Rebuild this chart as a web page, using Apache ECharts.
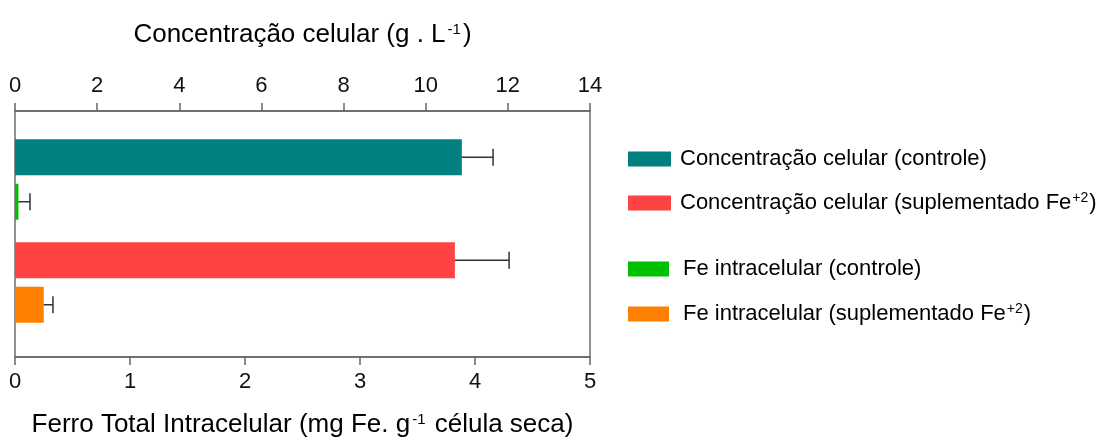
<!DOCTYPE html>
<html>
<head>
<meta charset="utf-8">
<script src="https://cdn.jsdelivr.net/npm/echarts@6/dist/echarts.min.js"></script>
<style>
  html, body { margin: 0; padding: 0; background: #ffffff; }
  #chart { width: 1096px; height: 438px; }
</style>
</head>
<body>
<div id="chart"></div>
<script>
// Treatments (rows) and measured values
const groups = ['controle', 'suplementado Fe+2'];
const seriesNames = [
  'Concentração celular (controle)',
  'Concentração celular (suplementado Fe+2)',
  'Fe intracelular (controle)',
  'Fe intracelular (suplementado Fe+2)'
];
// Cell concentration, g/L (top axis)
const concValues = [10.88, 10.71];
const concErrors = [0.76, 1.32];
// Total intracellular iron, mg Fe / g dry cell (bottom axis)
const feValues = [0.03, 0.25];
const feErrors = [0.10, 0.08];
// Axis ranges
const concAxis = { min: 0, max: 14, interval: 2 };
const feAxis = { min: 0, max: 5, interval: 1 };

const colors = ['#008080', '#ff4242', '#00c000', '#ff8000'];
const FONT = 'Liberation Sans, Arial, sans-serif';
const BAR_W = 36;
const BAR_GAP = 8.5;
const SLOT_OFFSET = (BAR_W + BAR_GAP) / 2;

const chart = echarts.init(document.getElementById('chart'), null, { renderer: 'canvas' });

const supRich = {
  n: { fontSize: 26, fontFamily: FONT, color: '#000' },
  sup: { fontSize: 15, fontFamily: FONT, color: '#000', verticalAlign: 'top', padding: [0, 2, 0, 2] }
};
const legendRich = {
  n: { fontSize: 22, fontFamily: FONT, color: '#000' },
  sup: { fontSize: 14, fontFamily: FONT, color: '#000', verticalAlign: 'top', padding: [0, 1, 0, 1] }
};

function legendFormatter(name) {
  if (name.indexOf('Fe+2)') >= 0) {
    return '{n|' + name.replace('+2)', '') + '}{sup|+2}{n|)}';
  }
  return '{n|' + name + '}';
}

// Error bar: horizontal whisker from the bar end to value + error, with an end cap
function errorRenderer(slot) {
  return function (params, api) {
    const v = api.value(0);
    const cat = api.value(1);
    const err = api.value(2);
    const p0 = api.coord([v, cat]);
    const p1 = api.coord([v + err, cat]);
    const y = p0[1] + slot * SLOT_OFFSET;
    const half = 8.5;
    const style = { stroke: '#333', lineWidth: 1.5 };
    return {
      type: 'group',
      children: [
        { type: 'line', shape: { x1: p0[0], y1: y, x2: p1[0], y2: y }, style: style },
        { type: 'line', shape: { x1: p1[0], y1: y - half, x2: p1[0], y2: y + half }, style: style }
      ]
    };
  };
}

function onlyAt(values, idx) {
  return groups.map((g, i) => (i === idx ? values[i] : '-'));
}

const axisLabelStyle = { fontSize: 22, fontFamily: FONT, color: '#111' };
const axisLineStyle = { color: '#666', width: 1.5 };

const option = {
  animation: false,
  backgroundColor: '#ffffff',
  grid: [
    // frame with the two visible value axes
    { left: 15, right: 506, top: 111, bottom: 81, outerBoundsMode: 'none', containLabel: false,
      show: true, borderColor: '#6e6e6e', borderWidth: 1.5, backgroundColor: 'transparent' },
    // rows of bars
    { left: 15, right: 506, top: 128, bottom: 104, outerBoundsMode: 'none', containLabel: false, show: false }
  ],
  xAxis: [
    {
      gridIndex: 0, type: 'value', position: 'top',
      min: concAxis.min, max: concAxis.max, interval: concAxis.interval,
      name: '{n|Concentração celular (g . L}{sup|-1}{n|)}',
      nameLocation: 'middle', nameGap: 63,
      nameTextStyle: { rich: supRich },
      axisLine: { show: true, lineStyle: axisLineStyle },
      axisTick: { show: true, inside: false, length: 8, lineStyle: axisLineStyle },
      axisLabel: Object.assign({ margin: 14 }, axisLabelStyle),
      splitLine: { show: false }
    },
    {
      gridIndex: 0, type: 'value', position: 'bottom',
      min: feAxis.min, max: feAxis.max, interval: feAxis.interval,
      name: '{n|Ferro Total Intracelular (mg Fe. g}{sup|-1}{n| célula seca)}',
      nameLocation: 'middle', nameGap: 55,
      nameTextStyle: { rich: supRich },
      axisLine: { show: true, lineStyle: axisLineStyle },
      axisTick: { show: true, inside: false, length: 8, lineStyle: axisLineStyle },
      axisLabel: Object.assign({ margin: 14 }, axisLabelStyle),
      splitLine: { show: false }
    },
    {
      gridIndex: 1, type: 'value', position: 'top',
      min: concAxis.min, max: concAxis.max,
      show: false, splitLine: { show: false }
    },
    {
      gridIndex: 1, type: 'value', position: 'bottom',
      min: feAxis.min, max: feAxis.max,
      show: false, splitLine: { show: false }
    }
  ],
  yAxis: [
    { gridIndex: 0, type: 'category', data: groups, show: false },
    { gridIndex: 1, type: 'category', data: groups, inverse: true, show: false }
  ],
  legend: [
    {
      data: seriesNames.slice(0, 2), orient: 'vertical', padding: 0,
      left: 628, top: 147, itemWidth: 43, itemHeight: 15, itemGap: 20,
      icon: 'rect', formatter: legendFormatter,
      textStyle: { rich: legendRich, lineHeight: 24, padding: [0, 0, 0, 4] }
    },
    {
      data: seriesNames.slice(2, 4), orient: 'vertical', padding: 0,
      left: 628, top: 257, itemWidth: 41, itemHeight: 15, itemGap: 21,
      icon: 'rect', formatter: legendFormatter,
      textStyle: { rich: legendRich, lineHeight: 24, padding: [0, 0, 0, 9] }
    }
  ],
  series: [
    {
      name: seriesNames[0], type: 'bar', xAxisIndex: 2, yAxisIndex: 1, stack: 'conc',
      barWidth: BAR_W, barGap: (BAR_GAP / BAR_W * 100) + '%',
      itemStyle: { color: colors[0] }, data: onlyAt(concValues, 0)
    },
    {
      name: seriesNames[1], type: 'bar', xAxisIndex: 2, yAxisIndex: 1, stack: 'conc',
      barWidth: BAR_W, barGap: (BAR_GAP / BAR_W * 100) + '%',
      itemStyle: { color: colors[1] }, data: onlyAt(concValues, 1)
    },
    {
      name: seriesNames[2], type: 'bar', xAxisIndex: 3, yAxisIndex: 1, stack: 'fe',
      barWidth: BAR_W, barGap: (BAR_GAP / BAR_W * 100) + '%',
      itemStyle: { color: colors[2] }, data: onlyAt(feValues, 0)
    },
    {
      name: seriesNames[3], type: 'bar', xAxisIndex: 3, yAxisIndex: 1, stack: 'fe',
      barWidth: BAR_W, barGap: (BAR_GAP / BAR_W * 100) + '%',
      itemStyle: { color: colors[3] }, data: onlyAt(feValues, 1)
    },
    {
      type: 'custom', xAxisIndex: 2, yAxisIndex: 1, z: 3,
      renderItem: errorRenderer(-1),
      encode: { x: 0, y: 1 },
      data: concValues.map((v, i) => [v, i, concErrors[i]])
    },
    {
      type: 'custom', xAxisIndex: 3, yAxisIndex: 1, z: 3,
      renderItem: errorRenderer(1),
      encode: { x: 0, y: 1 },
      data: feValues.map((v, i) => [v, i, feErrors[i]])
    }
  ]
};

chart.setOption(option);
</script>
</body>
</html>
